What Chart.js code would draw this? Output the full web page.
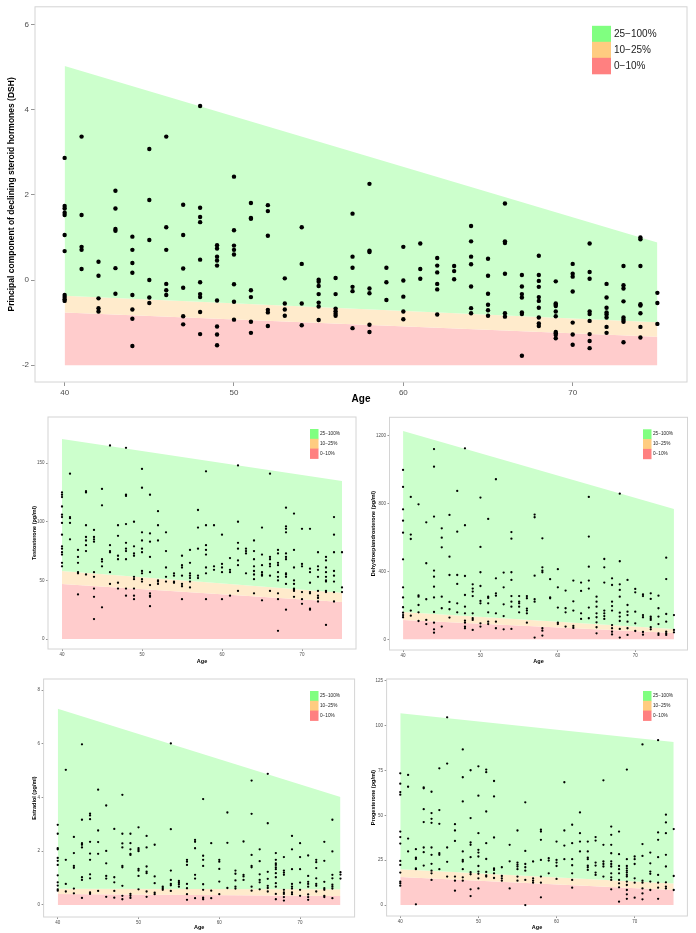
<!DOCTYPE html>
<html>
<head>
<meta charset="utf-8">
<script src="https://cdn.jsdelivr.net/npm/chart.js@4.4.1/dist/chart.umd.min.js"></script>
<style>
  body { margin: 0; background: #fff; }
  #wrap { position: relative; width: 696px; height: 933px; }
  canvas { position: absolute; }
</style>
</head>
<body>
<div id="wrap">
  <canvas id="dshChart" width="696" height="412" style="left:0;top:0"></canvas>
  <canvas id="testoChart" width="360" height="265" style="left:0;top:405px"></canvas>
  <canvas id="dheaChart" width="336" height="265" style="left:360px;top:405px"></canvas>
  <canvas id="estraChart" width="360" height="265" style="left:0;top:668px"></canvas>
  <canvas id="progChart" width="336" height="265" style="left:360px;top:668px"></canvas>
</div>
<script>
// ages of the participants, one list of measurements per age
const ages = [40, 41, 42, 43, 44, 45, 46, 47, 48, 49, 50, 51, 52, 53, 54, 55, 56, 57,
              58, 59, 60, 61, 62, 63, 64, 65, 66, 67, 68, 69, 70, 71, 72, 73, 74, 75];
const ageTicks = [40, 50, 60, 70];
const bandAges = [40, 75];
const bandLabels = ['25\u2212100%', '10\u221225%', '0\u221210%'];

// principal component (DSH)
const dshByAge = [
  [2.87, 1.74, 1.68, 1.58, 1.53, 1.06, 0.68, -0.35, -0.4, -0.45, -0.49],
  [3.37, 1.53, 0.78, 0.71, 0.26],
  [0.43, 0.1, -0.43, -0.66, -0.74],
  [2.1, 1.68, 1.2, 1.16, 0.28, -0.32],
  [1.02, 0.71, 0.4, 0.17, -0.35, -0.69, -0.91, -1.55],
  [3.08, 1.88, 0.94, 0, -0.41, -0.54],
  [3.37, 1.24, 0.71, -0.09, -0.24, -0.35],
  [1.77, 1.06, 0.27, -0.18, -0.85, -1.04],
  [4.09, 1.7, 1.48, 1.36, 0.48, -0.05, -0.33, -0.4, -0.75, -1.27],
  [0.82, 0.74, 0.55, 0.46, 0.34, -0.48, -1.09, -1.28, -1.53],
  [2.43, 1.17, 0.81, 0.71, 0.6, -0.1, -0.51, -0.93],
  [1.81, 1.46, 1.44, -0.24, -0.4, -0.98, -1.24],
  [1.76, 1.62, 1.04, -0.7, -0.76, -1.08],
  [0.04, -0.55, -0.69, -0.84],
  [1.24, 0.38, -0.55, -1.06],
  [0.01, -0.04, -0.14, -0.33, -0.53, -0.62, -0.94],
  [0.05, -0.33, -0.67, -0.73, -0.79, -0.84],
  [1.56, 0.55, 0.29, -0.16, -0.26, -1.13],
  [2.26, 0.69, 0.66, -0.2, -0.31, -1.05, -1.22],
  [0.29, -0.05, -0.47],
  [0.78, -0.01, -0.39, -0.74, -0.92],
  [0.86, 0.26, 0.03],
  [0.52, 0.34, 0.18, -0.09, -0.22, -0.81],
  [0.33, 0.21, 0.02],
  [1.27, 0.91, 0.55, 0.37, -0.15, -0.66, -0.78],
  [0.5, 0.1, -0.32, -0.58, -0.71, -0.84],
  [1.8, 0.91, 0.87, 0.15, -0.78, -0.86],
  [0.12, -0.15, -0.33, -0.41, -0.76, -0.8, -1.78],
  [0.57, 0.12, -0.02, -0.16, -0.4, -0.49, -0.65, -0.88, -1.02, -1.08],
  [-0.03, -0.55, -0.58, -0.61, -0.74, -0.85, -1.22, -1.25, -1.29, -1.37],
  [0.38, 0.15, 0.08, -0.27, -1.0, -1.28, -1.52],
  [0.86, 0.19, 0.03, -0.74, -0.8, -0.96, -1.27, -1.43, -1.6],
  [-0.09, -0.41, -0.65, -0.76, -0.81, -0.88, -1.1, -1.24],
  [0.33, -0.12, -0.2, -0.5, -0.88, -0.93, -0.98, -1.46],
  [1.0, 0.96, 0.33, -0.57, -0.6, -0.78, -1.1, -1.35],
  [-0.3, -0.54, -1.03]
];
const dshTicks = [-2, 0, 2, 4, 6];
const dshTop = [5.03, 0.88];
const dsh25 = [-0.37, -0.99];
const dsh10 = [-0.76, -1.33];
const dshFloor = [-2, -2];

// testosterone (pg/ml)
const testoByAge = [
  [125, 123, 121, 113, 106, 104, 99, 89, 79, 77, 74, 72, 65, 62],
  [141, 104, 103, 99, 85],
  [76, 70, 65, 57, 56, 38],
  [126, 125, 97, 87, 84, 80, 75, 55],
  [93, 87, 85, 83, 57, 53, 43, 36, 17],
  [128, 114, 68, 66, 62, 27],
  [165, 80, 75, 74, 57, 47],
  [97, 88, 71, 68, 48, 43],
  [163, 123, 122, 98, 82, 77, 75, 68, 43, 37],
  [100, 79, 73, 71, 53, 51, 43, 37, 34],
  [145, 129, 91, 84, 77, 74, 58, 56, 51, 49],
  [123, 90, 83, 70, 57, 46, 39, 37, 36, 28],
  [109, 97, 84, 50, 49, 47],
  [91, 75, 61, 53, 49],
  [56, 54, 49, 48],
  [71, 63, 61, 54, 47, 45, 34],
  [76, 65, 56, 54, 52, 49, 44],
  [110, 95, 77, 54, 52],
  [143, 97, 80, 76, 72, 61, 56, 34],
  [97, 62, 59],
  [89, 64, 61, 57, 34],
  [69, 59, 57, 37],
  [148, 100, 82, 77, 67, 63, 41],
  [77, 75, 73, 56],
  [84, 75, 68, 62, 58, 55, 51, 39],
  [95, 72, 63, 57, 55, 54, 33],
  [141, 70, 68, 64, 62, 54, 41],
  [76, 73, 65, 63, 57, 53, 50, 39, 34, 7],
  [112, 96, 94, 91, 73, 70, 68, 56, 55, 53, 47, 25],
  [107, 76, 61, 50, 47, 43, 42, 41, 36],
  [94, 64, 62, 40, 34, 30],
  [94, 60, 57, 48, 40, 39, 26, 25],
  [74, 62, 59, 53, 41, 37, 35, 32],
  [70, 67, 61, 57, 53, 50, 49, 41, 40, 12],
  [104, 89, 74, 58, 54, 49, 40, 32],
  [74, 44, 40]
];
const testoTicks = [0, 50, 100, 150];
const testoTop = [170.5, 134.7];
const testo25 = [58, 39.5];
const testo10 = [47, 31.5];
const testoFloor = [0, 0];

// dehydroepiandrosterone (pg/ml)
const dheaByAge = [
  [998, 898, 766, 699, 628, 471, 306, 247, 189, 157, 143, 130],
  [839, 617, 591, 169, 139],
  [795, 259, 251, 202, 159, 108],
  [689, 448, 236, 114, 90],
  [1121, 1017, 723, 405, 369, 310, 247, 161, 98, 59, 39],
  [654, 599, 542, 251, 183, 75],
  [733, 487, 379, 220, 177, 128],
  [874, 634, 379, 326, 212, 159],
  [1125, 672, 373, 261, 192, 153, 110, 98, 75, 65],
  [324, 299, 281, 255, 153, 124, 114, 55],
  [835, 544, 395, 314, 226, 212, 94, 75],
  [709, 251, 244, 212, 159, 104, 90],
  [943, 359, 271, 257, 153, 104, 65],
  [393, 306, 206, 137, 59],
  [632, 593, 395, 350, 255, 222, 192, 61],
  [255, 222, 212, 192, 159],
  [255, 242, 181, 169, 153, 98],
  [735, 719, 375, 236, 222, 10],
  [595, 424, 405, 395, 65, 51, 22],
  [354, 247, 242],
  [413, 306, 187, 98, 90],
  [287, 183, 159, 75],
  [346, 224, 169, 79, 67],
  [334, 285, 153, 120],
  [839, 605, 428, 346, 299, 187, 124],
  [251, 222, 192, 153, 130, 100, 71, 35],
  [473, 424, 334, 169, 153, 137, 120],
  [359, 320, 222, 196, 169, 84, 65, 45, 29],
  [858, 460, 324, 291, 251, 157, 134, 108, 61, 10],
  [350, 202, 163, 143, 104, 65, 26],
  [297, 277, 163, 94, 49],
  [265, 255, 143, 130, 43, 27],
  [271, 238, 134, 124, 114, 71, 59],
  [257, 183, 134, 90, 35, 26],
  [481, 355, 149, 104, 45, 35, 26],
  [143, 55, 41]
];
const dheaTicks = [0, 400, 800, 1200];
const dheaTop = [1228, 768];
const dhea25 = [161, 61];
const dhea10 = [114, 37];
const dheaFloor = [0, 0];

// estradiol (pg/ml)
const estraByAge = [
  [2.98, 2.65, 2.11, 2.07, 1.75, 1.64, 1.49, 1.1, 0.84, 0.72, 0.58, 0.53],
  [5.03, 1.68, 0.78, 0.5],
  [2.53, 1.93, 1.45, 1.38, 0.61, 0.43],
  [5.98, 3.17, 2.3, 2.24, 2.14, 1.03, 0.93, 0.26],
  [3.4, 3.33, 3.19, 2.35, 1.91, 1.68, 1.14, 0.99, 0.47, 0.41],
  [4.29, 2.77, 2.34, 1.9, 0.52],
  [3.7, 2.01, 1.55, 1.08, 0.98, 0.3],
  [2.83, 1.03, 0.84, 0.52, 0.27],
  [4.1, 2.65, 2.29, 2.14, 1.45, 1.4, 0.71, 0.34, 0.21],
  [2.65, 2.3, 2.07, 1.9, 1.86, 0.41, 0.34, 0.26],
  [2.89, 2.11, 2.05, 2.0, 1.34, 1.28, 1.08, 0.58],
  [2.57, 2.14, 1.43, 1.24, 1.18, 0.5, 0.3],
  [2.24, 1.06, 0.81, 0.46, 0.4],
  [0.68, 0.62, 0.56],
  [6.01, 2.82, 1.28, 0.93, 0.78, 0.73, 0.52],
  [0.89, 0.83, 0.77, 0.68],
  [1.68, 1.61, 1.49, 0.78, 0.62, 0.4, 0.19],
  [2.42, 2.35, 2.11, 1.12, 0.98, 0.25],
  [3.94, 1.83, 1.68, 1.45, 0.77, 0.56, 0.27, 0.21],
  [2.3, 0.53, 0.25],
  [1.68, 1.61, 1.34, 0.87, 0.4],
  [3.44, 2.31, 0.63],
  [1.28, 1.16, 0.91, 0.68, 0.61],
  [2.36, 1.12, 1.06, 0.93],
  [4.63, 3.39, 1.86, 1.45, 1.4, 0.68, 0.53],
  [2.07, 1.63, 1.14, 0.93, 0.84, 0.58],
  [4.88, 3.04, 1.23, 0.97, 0.71, 0.63, 0.5],
  [1.93, 1.68, 1.55, 1.49, 1.4, 1.33, 1.18, 1.03, 0.81, 0.68, 0.41, 0.21],
  [1.78, 1.28, 1.2, 1.12, 0.56, 0.47, 0.41, 0.29, 0.16],
  [2.57, 2.07, 1.33, 0.78, 0.68, 0.61, 0.47, 0.4],
  [2.3, 1.78, 1.33, 0.83, 0.56, 0.34],
  [1.84, 1.08, 0.86, 0.78, 0.68, 0.39, 0.29, 0.19],
  [1.68, 1.59, 1.37, 0.99, 0.78, 0.71, 0.5],
  [2.35, 1.64, 0.86, 0.62, 0.56, 0.34, 0.29],
  [3.17, 1.99, 1.12, 0.99, 0.75, 0.68, 0.61, 0.25],
  [1.22, 1.13, 0.98]
];
const estraTicks = [0, 2, 4, 6, 8];
const estraTop = [7.3, 4.02];
const estra25 = [0.6, 0.58];
const estra10 = [0.41, 0.33];
const estraFloor = [0, 0];

// progesterone (pg/ml)
const progByAge = [
  [73.5, 67.7, 63, 61.6, 41, 37.9, 34.3, 24.6, 22.4, 18.1, 13, 12.1, 10.8],
  [72.6, 66, 37.1, 29.9],
  [31.2, 26.5, 25.7, 20.5, 20, 0.4],
  [65.7, 65.1, 53.5, 46.3, 32.1, 29.5, 22],
  [63.2, 51.3, 48.1, 45.9, 32.1, 28, 23, 19.2, 17.7, 14],
  [76.3, 53, 45.3, 28.9, 28, 20],
  [104.7, 78.9, 32.1, 24.1, 15.9],
  [45.1, 41.6, 35.8, 15.9, 13.6, 8],
  [86.8, 71.3, 57.8, 29.9, 25.2, 24.3, 20, 15.5, 13.6],
  [75.2, 48.5, 34.9, 33.6, 26.7, 18.3, 17.2, 8.8, 5],
  [77.4, 61, 40.1, 30.8, 29.3, 27.1, 21.8, 18.7, 17.4, 14.9, 9.3],
  [75.6, 74.1, 52.2, 34.5, 25.7, 18.5, 16.6, 15.9],
  [69.2, 60.6, 37.7, 20.5, 19.6, 17.7, 15.1],
  [21.1, 16.2, 14.9, 13.6],
  [33.6, 24.4, 9.3],
  [41.6, 23.7, 22.6, 21.5, 20, 15.9, 13.6],
  [57.3, 30.2, 22.9, 21.1, 19.2, 14, 0],
  [24.3, 14.9, 13.6, 12.5],
  [42, 41, 36.4, 25.2, 15.9, 12.5, 4.3],
  [26.1, 24.8, 17.7],
  [35.4, 25.2, 23.7, 21.8, 14.6],
  [68.5, 41.6, 33.2, 25.6],
  [44.8, 34.5, 25.6, 22.2, 17.7, 14, 9.7],
  [51.7, 40.1, 35.4, 29.9],
  [35.4, 29.9, 26.5, 25.6, 22, 21.1, 19.6],
  [37.9, 36, 23.7, 22, 18.1, 16.8],
  [69.6, 33.6, 24.3, 22.9, 21.5, 15.9],
  [43.8, 39.2, 33.6, 28.9, 24.4, 22.9, 21.5, 17.7, 15.5, 14, 8.8],
  [41, 28.4, 21.8, 20, 17.7, 14, 12.1, 9.9, 1.9],
  [75.6, 25.6, 21.8, 20.5, 19.2, 18.1, 16.8, 15.9, 13.1, 11.2, 8.4, 6, 3.5],
  [27.1, 25.6, 22.9, 14.9, 12.5, 4.1],
  [89.6, 34, 27.4, 13.6, 12.5, 9.3, 6.5, 3.2],
  [29.3, 23.3, 18.7, 17.4, 13.1, 8.4],
  [92, 40.5, 36.4, 26.7, 16.8, 12.5, 9.7, 3.5],
  [50.4, 46.1, 40.1, 28, 21.5, 12.7, 10.3, 9.3],
  [42.4, 16.2, 8.4]
];
const progTicks = [0, 25, 50, 75, 100, 125];
const progTop = [107, 91];
const prog25 = [20, 12];
const prog10 = [15.6, 8.4];
const progFloor = [0, 0];

const FONT = "'Liberation Sans', Arial, Helvetica, sans-serif";
Chart.defaults.font.family = FONT;

const fillColors = ['rgb(204,255,204)', 'rgb(255,235,204)', 'rgb(255,204,204)'];
const keyColors = ['rgb(128,255,128)', 'rgb(255,204,128)', 'rgb(255,128,128)'];

// light grey frame around the plotting panel
const panelBox = {
    id: 'panelBox',
    afterDatasetsDraw(chart) {
        const a = chart.chartArea;
        const ctx = chart.ctx;
        ctx.save();
        ctx.strokeStyle = '#d4d4d4';
        ctx.lineWidth = 1;
        ctx.strokeRect(a.left, a.top, a.right - a.left, a.bottom - a.top);
        ctx.restore();
    }
};

// the colour key drawn inside the panel, top right
const bandKey = {
    id: 'bandKey',
    afterDraw(chart, args, opts) {
        const a = chart.chartArea;
        const ctx = chart.ctx;
        const x = a.right - opts.right;
        const y = a.top + opts.top;
        ctx.save();
        ctx.font = opts.size + 'px ' + FONT;
        ctx.textBaseline = 'middle';
        bandLabels.forEach(function(label, i) {
            ctx.fillStyle = keyColors[i];
            ctx.fillRect(x, y + i * opts.h, opts.w, opts.h + 0.5);
            ctx.fillStyle = '#1a1a1a';
            ctx.fillText(label, x + opts.w + opts.gap, y + i * opts.h + opts.h / 2);
        });
        ctx.restore();
    }
};

function edge(values) {
    return bandAges.map((a, i) => ({ x: a, y: values[i] }));
}

function band(values, color, target) {
    return {
        data: edge(values),
        backgroundColor: color,
        borderColor: 'rgba(0,0,0,0)',
        borderWidth: 0,
        pointRadius: 0,
        fill: { target: target },
        order: 1
    };
}

function renderChart(id, c) {
    const points = [];
    c.values.forEach((list, i) => list.forEach(v => points.push({ x: ages[i], y: v })));

    const ctx = document.getElementById(id).getContext('2d');
    return new Chart(ctx, {
        type: 'line',
        data: {
            datasets: [
                band(c.top, fillColors[0], 1),
                band(c.q25, fillColors[1], 2),
                band(c.q10, fillColors[2], 3),
                { data: edge(c.floor), borderColor: 'rgba(0,0,0,0)', borderWidth: 0, pointRadius: 0, fill: false, order: 1 },
                {
                    data: points,
                    showLine: false,
                    pointRadius: c.dot,
                    pointBackgroundColor: '#000',
                    pointBorderWidth: 0,
                    order: 0
                }
            ]
        },
        options: {
            responsive: false,
            animation: false,
            events: [],
            layout: { padding: c.pad },
            plugins: {
                legend: { display: false },
                tooltip: { enabled: false },
                bandKey: c.key
            },
            scales: {
                x: {
                    type: 'linear',
                    min: 38.25,
                    max: 76.75,
                    afterBuildTicks: s => { s.ticks = ageTicks.map(v => ({ value: v })); },
                    afterFit: s => { s.height = c.xh; },
                    border: { display: false },
                    grid: { drawOnChartArea: false, tickLength: c.tick, color: '#7a7a7a', lineWidth: 0.8 },
                    ticks: { font: { size: c.tickSize }, color: '#4d4d4d', padding: c.tickPad, maxRotation: 0,
                             callback: v => String(v) },
                    title: {
                        display: true, text: 'Age', color: '#000',
                        font: { size: c.xTitleSize, weight: 'bold' },
                        padding: { top: 0, bottom: c.xTitlePad }
                    }
                },
                y: {
                    min: c.yMin,
                    max: c.yMax,
                    afterBuildTicks: s => { s.ticks = c.ticks.map(v => ({ value: v })); },
                    afterFit: s => { s.width = c.yw; },
                    border: { display: false },
                    grid: { drawOnChartArea: false, tickLength: c.tick, color: '#7a7a7a', lineWidth: 0.8 },
                    ticks: { font: { size: c.tickSize }, color: '#4d4d4d', padding: c.tickPad,
                             callback: v => String(v) },
                    title: {
                        display: true, text: c.yTitle, color: '#000',
                        font: { size: c.yTitleSize, weight: 'bold' },
                        padding: { top: c.yTitlePad, bottom: 0 }
                    }
                }
            }
        },
        plugins: [panelBox, bandKey]
    });
}

const smallKey = { top: 12, w: 8.5, h: 9.8, size: 4.7, gap: 1.5 };

document.addEventListener('DOMContentLoaded', function() {
    renderChart('dshChart', {
        values: dshByAge, ticks: dshTicks, top: dshTop, q25: dsh25, q10: dsh10, floor: dshFloor,
        yMin: -2.395, yMax: 6.42, yTitle: 'Principal component of declining steroid hormones (DSH)',
        pad: { left: 0, top: 3, right: 9, bottom: 0 }, yw: 35, xh: 30,
        dot: 2.2, tick: 4, tickPad: 2, tickSize: 8,
        xTitleSize: 10, xTitlePad: 6.5, yTitleSize: 8.5, yTitlePad: 7,
        key: { right: 95, top: 19, w: 19, h: 16, size: 10, gap: 3 }
    });
    renderChart('testoChart', {
        values: testoByAge, ticks: testoTicks, top: testoTop, q25: testo25, q10: testo10, floor: testoFloor,
        yMin: -8.5, yMax: 189.3, yTitle: 'Testosterone (pg/ml)',
        pad: { left: 0, top: 12, right: 4, bottom: 0 }, yw: 48, xh: 21,
        dot: 1.15, tick: 2, tickPad: 1.5, tickSize: 4.5,
        xTitleSize: 5.5, xTitlePad: 5.7, yTitleSize: 5.5, yTitlePad: 30.7,
        key: Object.assign({ right: 46 }, smallKey)
    });
    renderChart('dheaChart', {
        values: dheaByAge, ticks: dheaTicks, top: dheaTop, q25: dhea25, q10: dhea10, floor: dheaFloor,
        yMin: -63, yMax: 1308, yTitle: 'Dehydroepiandrosterone (pg/ml)',
        pad: { left: 0, top: 12.3, right: 8.5, bottom: 0 }, yw: 29.5, xh: 20,
        dot: 1.15, tick: 2, tickPad: 1.5, tickSize: 4.5,
        xTitleSize: 5.5, xTitlePad: 5.4, yTitleSize: 5.5, yTitlePad: 9.7,
        key: Object.assign({ right: 44.5 }, smallKey)
    });
    renderChart('estraChart', {
        values: estraByAge, ticks: estraTicks, top: estraTop, q25: estra25, q10: estra10, floor: estraFloor,
        yMin: -0.45, yMax: 8.41, yTitle: 'Estradiol (pg/ml)',
        pad: { left: 0, top: 11, right: 5.4, bottom: 0 }, yw: 43.6, xh: 16,
        dot: 1.15, tick: 2, tickPad: 1.5, tickSize: 4.5,
        xTitleSize: 5.5, xTitlePad: 2.7, yTitleSize: 5.5, yTitlePad: 31,
        key: Object.assign({ right: 44.6 }, smallKey)
    });
    renderChart('progChart', {
        values: progByAge, ticks: progTicks, top: progTop, q25: prog25, q10: prog10, floor: progFloor,
        yMin: -6.1, yMax: 126.1, yTitle: 'Progesterone (pg/ml)',
        pad: { left: 0, top: 11, right: 8.6, bottom: 0 }, yw: 26.6, xh: 17,
        dot: 1.15, tick: 2, tickPad: 1.5, tickSize: 4.5,
        xTitleSize: 5.5, xTitlePad: 2.7, yTitleSize: 5.5, yTitlePad: 10,
        key: Object.assign({ right: 44.4 }, smallKey)
    });
});
</script>
</body>
</html>
